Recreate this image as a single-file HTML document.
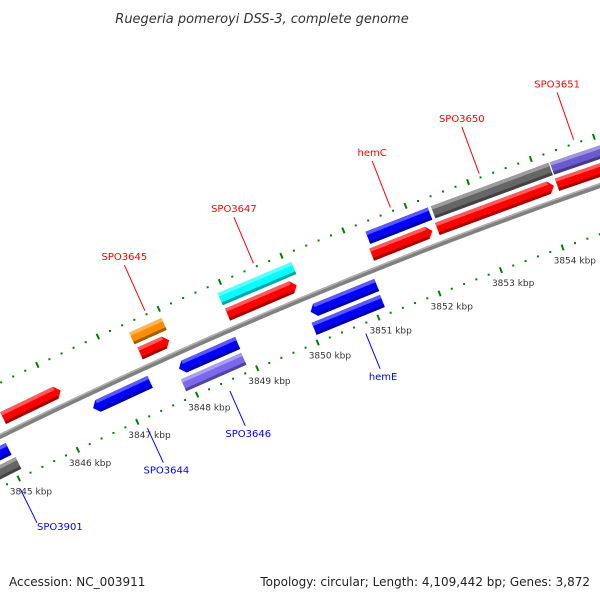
<!DOCTYPE html>
<html><head><meta charset="utf-8"><style>
html,body{margin:0;padding:0;background:#fff;}
svg{display:block;}
text{font-family:"DejaVu Sans","Liberation Sans",sans-serif;}
</style></head><body>
<svg id="map" width="600" height="600" viewBox="0 0 600 600" xmlns="http://www.w3.org/2000/svg">
<rect width="600" height="600" fill="#fff"/>
<text x="262" y="23" text-anchor="middle" font-size="13" font-style="italic" fill="#333">Ruegeria pomeroyi DSS-3, complete genome</text>
<g id="layer"></g>
<text x="9" y="586" font-size="12" fill="#222">Accession: NC_003911</text>
<text x="590" y="586" font-size="12" fill="#222" text-anchor="end">Topology: circular; Length: 4,109,442 bp; Genes: 3,872</text>
</svg>
<script>
// Data (kbp)
const majorTicks = [3845,3846,3847,3848,3849,3850,3851,3852,3853,3854,3855];
const tickLabels = ["3845 kbp","3846 kbp","3847 kbp","3848 kbp","3849 kbp","3850 kbp","3851 kbp","3852 kbp","3853 kbp","3854 kbp","3855 kbp"];
const featStart = [3845.19,3847.47,3848.91,3851.26,3852.32,3854.24, 3847.45,3848.90,3851.30,3852.35,3854.25, 3844.0,3846.48,3847.91,3850.08, 3844.0,3847.87,3850.03];
const featEnd   = [3846.15,3847.95,3850.04,3852.24,3854.19,3856.5, 3847.98,3850.10,3852.30,3854.23,3856.5, 3845.06,3847.43,3848.88,3851.16, 3845.10,3848.87,3851.15];
const featRing  = [1,1,1,1,1,1, 2,2,2,2,2, -1,-1,-1,-1, -2,-2,-2];
const featColor = ["#ff0000","#ff0000","#ff0000","#ff0000","#ff0000","#ff0000","#ff8c00","#00ffff","#0000ff","#666666","#6a5acd","#0000ff","#0000ff","#0000ff","#0000ff","#666666","#7b68ee","#0000ff"];
const featArrow = [1,1,1,1,1,0, 0,0,0,0,0, 0,1,1,1, 0,0,0];
const labelText = ["SPO3645","SPO3647","hemC","SPO3650","SPO3651","SPO3901","SPO3644","SPO3646","hemE"];
const labelBp   = [3847.80,3849.57,3851.78,3853.20,3854.70,3844.95,3847.10,3848.48,3850.73];
const labelColor= ["#ff0000","#ff0000","#ff0000","#ff0000","#ff0000","#0000ff","#0000ff","#0000ff","#0000ff"];
const labelAnchor=["middle","middle","middle","middle","middle","start","middle","middle","middle"];

const NS='http://www.w3.org/2000/svg';
const layer=document.getElementById('layer');
const CX=2333, CY=5173, R=5280, TH0=-2.0037, K=0.01255, BP0=3847;
function ang(bp){return TH0+(bp-BP0)*K;}
function pt(bp,r){const t=ang(bp);return [CX+r*Math.cos(t),CY+r*Math.sin(t)];}
function mk(tag,attrs){const e=document.createElementNS(NS,tag);for(const k in attrs)e.setAttribute(k,attrs[k]);layer.appendChild(e);return e;}
function poly(pts){return pts.map(p=>p[0].toFixed(1)+','+p[1].toFixed(1)).join(' ');}
function shade(hex,f){const n=parseInt(hex.slice(1),16);let r=n>>16,g=(n>>8)&255,b=n&255;
 if(f>0){r+=(255-r)*f;g+=(255-g)*f;b+=(255-b)*f;}else{r*=1+f;g*=1+f;b*=1+f;}
 return 'rgb('+Math.round(r)+','+Math.round(g)+','+Math.round(b)+')';}

// rulers
const rIn=R-46, rOut=R+48;
[rIn,rOut].forEach((rr,ri)=>{
 for(let b=3843; b<=3857.001; b+=0.2){
  const isMaj=Math.abs(b-Math.round(b))<0.01;
  if(isMaj){const a=pt(b,rr-3),c=pt(b,rr+3);
   const l=mk('line',{x1:a[0],y1:a[1],x2:c[0],y2:c[1],stroke:'#008000','stroke-width':2});
   
   
  } else {const a=pt(b,rr);
   const d=mk('rect',{x:a[0]-1,y:a[1]-1,width:2,height:2,fill:'#008000'});
   
   }
 }
});
majorTicks.forEach((b,i)=>{const a=pt(b,rIn);
 const t=mk('text',{x:a[0]-9,y:a[1]+16,'font-size':9,fill:'#333'});t.textContent=tickLabels[i];
 
 });

// backbone
(function(){let d='';for(let b=3842;b<=3858;b+=0.5){const p=pt(b,R);d+=(d?'L':'M')+p[0].toFixed(1)+' '+p[1].toFixed(1);}
 const a=mk('path',{d:d,stroke:'#808080','stroke-width':5,fill:'none'});
 
 
 const h=mk('path',{d:d,stroke:'#b0b0b0','stroke-width':1.5,fill:'none',transform:'translate(-0.7,-1.5)'});
 
 })();

// features
const ringOff={1:15,2:32,'-1':-15,'-2':-32};
featStart.forEach((s,i)=>{
 const e=featEnd[i], rc=R+ringOff[featRing[i]], h=6.5, fwd=featRing[i]>0;
 const ah=featArrow[i]?0.08:0;
 let s2=s,e2=e;
 if(ah){ if(fwd) e2=e-ah; else s2=s+ah; }
 const top=[pt(s2,rc+h),pt(e2,rc+h)], bot=[pt(e2,rc-h),pt(s2,rc-h)];
 let pts;
 if(ah&&fwd) pts=[top[0],top[1],pt(e,rc),bot[0],bot[1]];
 else if(ah) pts=[pt(s,rc),top[0],top[1],bot[0],bot[1]];
 else pts=[top[0],top[1],bot[0],bot[1]];
 const g=mk('polygon',{points:poly(pts),fill:featColor[i]});
 
 
 const hl=mk('polygon',{points:poly([pt(s2,rc+h),pt(e2,rc+h),pt(e2,rc+h-3.5),pt(s2,rc+h-3.5)]),fill:shade(featColor[i],0.35)});
 
 
 const sh=mk('polygon',{points:poly([pt(s2,rc-h+3),pt(e2,rc-h+3),pt(e2,rc-h),pt(s2,rc-h)]),fill:shade(featColor[i],-0.35)});
 
 
});

// labels
labelText.forEach((t,i)=>{
 const up=labelColor[i]==='#ff0000';
 const b=labelBp[i];
 const a=up?pt(b,R+52):pt(b,R-56), c=up?pt(b,R+102):pt(b,R-94);
 const l=mk('line',{x1:a[0],y1:a[1],x2:c[0],y2:c[1],stroke:labelColor[i],'stroke-width':1});
 
 
 const st=labelAnchor[i]==='start';
 const tx=mk('text',{x:up?c[0]:(st?c[0]:c[0]+3),y:up?c[1]-5:(st?c[1]+7:c[1]+11),'font-size':10,fill:labelColor[i],'text-anchor':labelAnchor[i]});
 tx.textContent=t;
 
 
});
</script>
</body></html>
